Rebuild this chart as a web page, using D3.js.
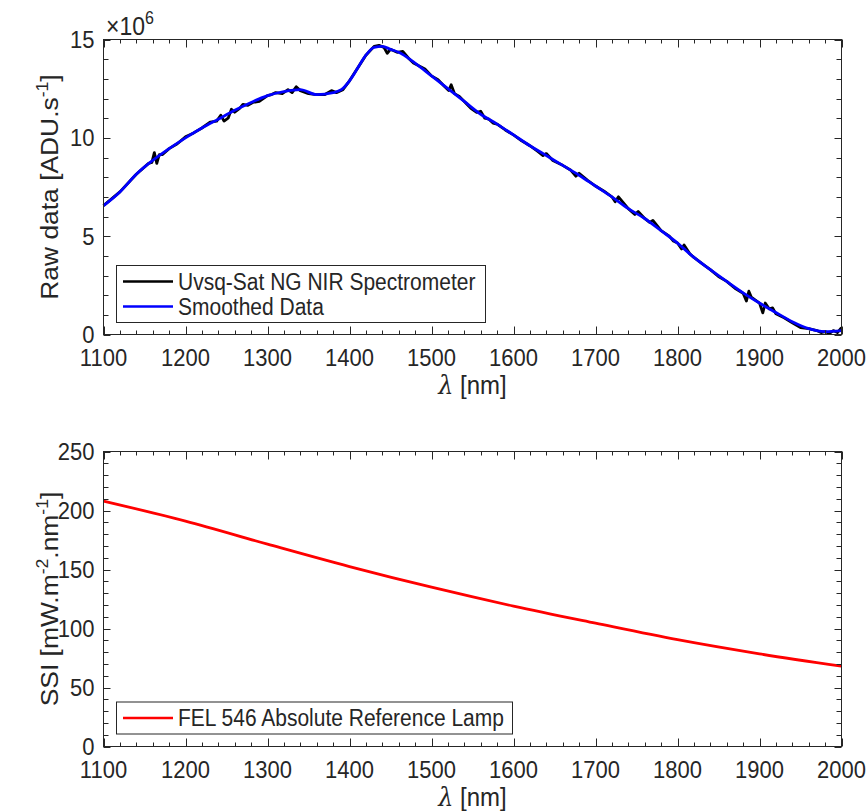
<!DOCTYPE html>
<html>
<head>
<meta charset="utf-8">
<script src="https://cdn.jsdelivr.net/npm/d3@7"></script>
<style>
  body { margin: 0; background: #fff; }
  text { font-family: "Liberation Sans", Arial, sans-serif; fill: #262626; }
</style>
</head>
<body>
<svg id="chart" width="868" height="812"></svg>
<script>
// wavelength ticks (nm)
const xTicks = [1100, 1200, 1300, 1400, 1500, 1600, 1700, 1800, 1900, 2000];

// smoothed raw counts (x1e6 ADU/s)
const smoothLambda = [1100, 1120, 1140, 1160, 1180, 1200, 1220, 1240, 1260, 1280, 1300, 1320, 1340, 1360, 1380, 1390, 1400, 1410, 1420, 1430, 1440, 1450, 1460, 1480, 1500, 1520, 1540, 1560, 1580, 1600, 1620, 1640, 1660, 1680, 1700, 1720, 1740, 1760, 1780, 1800, 1820, 1840, 1860, 1880, 1900, 1920, 1940, 1960, 1980, 2000];
const smoothValues = [6.55, 7.25, 8.15, 8.85, 9.45, 10.0, 10.5, 10.95, 11.4, 11.8, 12.15, 12.35, 12.45, 12.2, 12.3, 12.45, 12.9, 13.55, 14.2, 14.6, 14.65, 14.5, 14.35, 13.8, 13.15, 12.5, 11.85, 11.2, 10.7, 10.15, 9.6, 9.1, 8.6, 8.1, 7.55, 7.0, 6.4, 5.9, 5.28, 4.65, 3.92, 3.3, 2.7, 2.12, 1.6, 1.12, 0.65, 0.3, 0.15, 0.2];

// spectrometer raw counts (x1e6 ADU/s), [lambda, value]
const rawPoints = [
  [1100, 6.55], [1120, 7.25], [1140, 8.15], [1155, 8.7], [1159, 8.75], [1162, 9.25], [1165, 8.7], [1168, 9.15], [1172, 9.15],
  [1180, 9.45], [1190, 9.7], [1200, 10.05], [1210, 10.25], [1220, 10.5], [1230, 10.8], [1238, 10.85], [1243, 11.15], [1247, 10.85],
  [1252, 11.0], [1256, 11.45], [1260, 11.3], [1266, 11.5], [1270, 11.7], [1276, 11.65], [1282, 11.8], [1290, 11.85], [1300, 12.15],
  [1305, 12.2], [1310, 12.3], [1318, 12.25], [1325, 12.45], [1330, 12.3], [1335, 12.6], [1340, 12.4], [1350, 12.25], [1360, 12.2],
  [1370, 12.2], [1378, 12.4], [1384, 12.3], [1392, 12.45], [1400, 12.9], [1410, 13.55], [1420, 14.2], [1430, 14.65], [1436, 14.7],
  [1442, 14.6], [1446, 14.3], [1450, 14.5], [1458, 14.35], [1465, 14.4], [1472, 14.05], [1478, 13.8], [1485, 13.65], [1492, 13.5],
  [1500, 13.15], [1508, 12.95], [1515, 12.65], [1521, 12.4], [1524, 12.7], [1528, 12.25], [1534, 12.1], [1540, 11.85], [1548, 11.5],
  [1555, 11.3], [1560, 11.35], [1565, 11.0], [1570, 10.95], [1575, 10.75], [1580, 10.7], [1590, 10.4], [1600, 10.15], [1610, 9.85],
  [1620, 9.6], [1630, 9.3], [1636, 9.1], [1640, 9.2], [1648, 8.85], [1660, 8.6], [1670, 8.35], [1676, 8.05], [1680, 8.2], [1690, 7.85],
  [1700, 7.55], [1710, 7.3], [1720, 7.0], [1724, 6.75], [1728, 7.0], [1740, 6.4], [1748, 6.1], [1752, 6.25], [1760, 5.9], [1766, 5.7],
  [1770, 5.8], [1780, 5.28], [1790, 5.0], [1795, 4.75], [1800, 4.65], [1805, 4.35], [1808, 4.55], [1815, 4.1], [1820, 3.92],
  [1830, 3.6], [1840, 3.3], [1850, 2.95], [1860, 2.7], [1870, 2.35], [1880, 2.1], [1884, 1.7], [1887, 2.2], [1890, 1.9], [1895, 1.75],
  [1900, 1.6], [1904, 1.1], [1907, 1.6], [1912, 1.3], [1916, 1.35], [1920, 1.05], [1930, 0.85], [1940, 0.6], [1950, 0.35], [1960, 0.3],
  [1970, 0.2], [1975, 0.1], [1980, 0.15], [1985, 0.05], [1990, 0.2], [1995, 0.1], [2000, 0.35]
];

// FEL lamp reference irradiance (mW/m2/nm)
const lampLambda = [1100, 1200, 1300, 1400, 1500, 1600, 1700, 1800, 1900, 2000];
const lampSSI = [208, 191, 171.5, 152.5, 135, 119, 104.5, 90.5, 78.5, 68];

const rawYTicks = [0, 5, 10, 15];
const ssiYTicks = [0, 50, 100, 150, 200, 250];

const svg = d3.select('#chart');
const axisColor = '#262626';
const left = 103.5, right = 841.5;
const stretch = 1.1; // glyphs in the reference are a little taller than wide

// text placed at (x, y) baseline, stretched vertically
function addText(parent, x, y, size, rot) {
  return parent.append('text')
    .attr('transform', `translate(${x},${y}) scale(1,${stretch})` + (rot ? ` rotate(${rot})` : ''))
    .attr('font-size', size);
}

function drawPanel(opt) {
  const x = d3.scaleLinear().domain([1100, 2000]).range([left, right]);
  const y = d3.scaleLinear().domain(opt.yDomain).range([opt.bottom, opt.top]);
  const g = svg.append('g');

  // lines
  opt.series.forEach(s => {
    const line = d3.line().x(d => x(d[0])).y(d => y(d[1])).curve(s.curve);
    g.append('path')
      .datum(s.data)
      .attr('fill', 'none')
      .attr('stroke', s.color)
      .attr('stroke-width', s.width)
      .attr('stroke-linejoin', 'round')
      .attr('d', line);
  });

  // box
  g.append('rect')
    .attr('x', left).attr('y', opt.top)
    .attr('width', right - left).attr('height', opt.bottom - opt.top)
    .attr('fill', 'none').attr('stroke', axisColor).attr('stroke-width', 1);

  // ticks, inward on all four sides
  d3.range(1100, 2001, 20).forEach(v => {
    const len = xTicks.includes(v) ? 8 : 4;
    const px = Math.round(x(v)) + 0.5;
    g.append('line').attr('x1', px).attr('x2', px).attr('y1', opt.bottom).attr('y2', opt.bottom - len).attr('stroke', axisColor);
    g.append('line').attr('x1', px).attr('x2', px).attr('y1', opt.top).attr('y2', opt.top + len).attr('stroke', axisColor);
  });
  d3.range(opt.yDomain[0], opt.yDomain[1] + 1e-9, opt.yMinorStep).forEach(v => {
    const len = opt.yTicks.some(t => Math.abs(t - v) < 1e-9) ? 7 : 5;
    const py = Math.round(y(v)) + 0.5;
    g.append('line').attr('x1', left).attr('x2', left + len).attr('y1', py).attr('y2', py).attr('stroke', axisColor);
    g.append('line').attr('x1', right).attr('x2', right - len).attr('y1', py).attr('y2', py).attr('stroke', axisColor);
  });

  // tick labels
  xTicks.forEach(d => {
    addText(g, x(d), opt.bottom + 31, 22).attr('text-anchor', 'middle').text(d);
  });
  opt.yTicks.forEach(d => {
    addText(g, left - 9, y(d) + 8.5, 22).attr('text-anchor', 'end').text(d);
  });

  // x label
  const xl = addText(g, (left + right) / 2, opt.bottom + 59, 24).attr('text-anchor', 'middle');
  xl.append('tspan').attr('font-style', 'italic').attr('font-family', '"DejaVu Serif", serif').text('λ');
  xl.append('tspan').text(' [nm]');

  // y label (rotated; vertical stretch runs along the text)
  const yl = g.append('text')
    .attr('transform', `translate(58,${(opt.top + opt.bottom) / 2}) scale(1,${stretch}) rotate(-90)`)
    .attr('text-anchor', 'middle').attr('font-size', 24);
  opt.yLabel.forEach(part => {
    const t = yl.append('tspan').text(part.text);
    if (part.sup) t.attr('font-size', 16).attr('dy', -10);
    else if (part.after) t.attr('dy', 10);
  });

  // legend
  const lg = g.append('g');
  const rowH = 25;
  lg.append('rect')
    .attr('x', 116.5).attr('y', opt.legendTop)
    .attr('width', opt.legendW).attr('height', opt.legend.length * rowH + 7)
    .attr('fill', '#fff').attr('stroke', axisColor).attr('stroke-width', 1);
  opt.legend.forEach((item, i) => {
    const cy = opt.legendTop + 16 + i * rowH;
    lg.append('line').attr('x1', 123).attr('x2', 173).attr('y1', cy).attr('y2', cy)
      .attr('stroke', item.color).attr('stroke-width', 2.5);
    addText(lg, 178, cy + 8, 21).text(item.label);
  });

  return { x, y };
}

const smoothData = smoothLambda.map((l, i) => [l, smoothValues[i]]);
const lampData = lampLambda.map((l, i) => [l, lampSSI[i]]);

drawPanel({
  top: 39.5, bottom: 334.5, yDomain: [0, 15], yTicks: rawYTicks, yMinorStep: 1,
  series: [
    { data: rawPoints, color: '#000', width: 2.8, curve: d3.curveLinear },
    { data: smoothData, color: '#0000ff', width: 2.8, curve: d3.curveMonotoneX }
  ],
  yLabel: [{ text: 'Raw data [ADU.s' }, { text: '-1', sup: true }, { text: ']', after: true }],
  legendTop: 265.5, legendW: 369,
  legend: [
    { label: 'Uvsq-Sat NG NIR Spectrometer', color: '#000' },
    { label: 'Smoothed Data', color: '#0000ff' }
  ]
});

// exponent label
const ex = addText(svg, 106, 35, 23);
ex.append('tspan').text('×10');
ex.append('tspan').attr('font-size', 16).attr('dy', -10).text('6');

drawPanel({
  top: 451.5, bottom: 746.5, yDomain: [0, 250], yTicks: ssiYTicks, yMinorStep: 10,
  series: [
    { data: lampData, color: '#ff0000', width: 2.8, curve: d3.curveMonotoneX }
  ],
  yLabel: [{ text: 'SSI [mW.m' }, { text: '-2', sup: true }, { text: '.nm', after: true }, { text: '-1', sup: true }, { text: ']', after: true }],
  legendTop: 702, legendW: 396,
  legend: [
    { label: 'FEL 546 Absolute Reference Lamp', color: '#ff0000' }
  ]
});
</script>
</body>
</html>
